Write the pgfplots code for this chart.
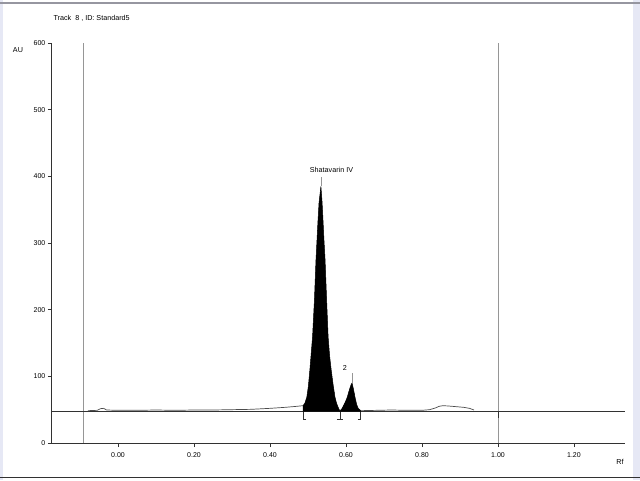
\documentclass[border=0pt]{standalone}
\usepackage{fontspec}
\setmainfont{Liberation Sans}
\usepackage{pgfplots}
\pgfplotsset{compat=1.18}
\definecolor{frame}{RGB}{150,150,160}
\definecolor{edge}{RGB}{230,232,245}
\definecolor{vline}{RGB}{150,150,150}
\definecolor{axcol}{RGB}{50,50,50}
\begin{document}
\begin{tikzpicture}[font=\fontsize{7.2}{8}\selectfont]
\useasboundingbox (0pt,0pt) rectangle (640pt,480pt);
\fill[white] (0pt,0pt) rectangle (640pt,480pt);
\fill[edge] (0pt,0pt) rectangle (3pt,480pt);
\fill[edge] (633pt,0pt) rectangle (640pt,480pt);
\draw[frame, line width=2pt] (0pt,477pt) -- (640pt,477pt);
\draw[axcol, line width=1pt] (0pt,2.5pt) -- (640pt,2.5pt);
\node[anchor=west] at (50pt,462pt) {Track\ \ 8 , ID: Standard5};
\node at (18pt,430pt) {AU};
\node at (620pt,18pt) {Rf};
% data origin (Rf 0, AU 0) sits at (118pt,37pt)
\begin{axis}[
  anchor=origin, at={(118pt,37pt)},
  scale only axis, width=573pt, height=400pt,
  xmin=-0.174, xmax=1.334, ymin=0, ymax=600,
  axis lines*=left,
  axis line style={axcol, line width=0.9pt},
  every tick/.style={axcol, line width=0.8pt},
  tick align=outside,
  xtick={0,0.2,0.4,0.6,0.8,1.0,1.2},
  ytick={0,100,200,300,400,500,600},
  x tick label style={/pgf/number format/fixed, /pgf/number format/fixed zerofill, /pgf/number format/precision=2, yshift=-2pt},
  yticklabel style={xshift=1pt},
  major tick length=4pt,
  /pgf/number format/assume math mode=true,
  tick label style={font=\fontsize{7}{8}\selectfont},
  clip=false,
]
% vertical start / front lines
\addplot[vline, line width=0.8pt] coordinates {(-0.092,0) (-0.092,600)};
\addplot[vline, line width=0.8pt] coordinates {(1.0,0) (1.0,600)};
% baseline
\addplot[axcol, line width=0.9pt] coordinates {(-0.174,47) (1.334,47)};
% trace before the peaks
\addplot[black!70, line width=0.7pt] coordinates {
  (-0.079,48.5) (-0.055,49) (-0.046,51.5) (-0.038,52) (-0.030,49.5)
  (0.00,49) (0.05,49) (0.10,49.5) (0.15,49) (0.20,49.5) (0.25,49.5)
  (0.30,50) (0.35,50.5) (0.40,52) (0.44,53.5) (0.470,55) (0.487,56)
};
% main peak (Shatavarin IV)
\addplot[fill=black, draw=black, line width=0.5pt] coordinates {
  (0.487,47) (0.487,56) (0.492,60) (0.497,69) (0.501,85) (0.505,110)
  (0.512,159) (0.517,215) (0.521,274) (0.526,330) (0.529,360)
  (0.534,385) (0.537,362) (0.539,340) (0.542,305) (0.545,274)
  (0.549,215) (0.553,159) (0.557,130) (0.561,110) (0.566,88)
  (0.571,69) (0.575,60) (0.579,54) (0.584,48) (0.584,47)
};
% peak 2
\addplot[fill=black, draw=black, line width=0.5pt] coordinates {
  (0.584,47) (0.584,48) (0.590,52) (0.597,60) (0.603,68) (0.608,78)
  (0.613,87) (0.616,90) (0.620,80) (0.624,68) (0.628,58) (0.632,52)
  (0.639,48.5) (0.639,47)
};
% trace after the peaks
\addplot[black!70, line width=0.7pt] coordinates {
  (0.639,48.5) (0.68,49) (0.72,49.5) (0.76,49) (0.80,49) (0.82,50)
  (0.835,52.5) (0.845,55) (0.855,56) (0.87,55.5) (0.89,54.5)
  (0.91,53.5) (0.925,52) (0.937,49.5)
};
% integration marks
\addplot[axcol, line width=0.7pt] coordinates {(0.495,36) (0.487,36) (0.487,47)};
\addplot[axcol, line width=0.7pt] coordinates {(0.576,36) (0.592,36)};
\addplot[axcol, line width=0.7pt] coordinates {(0.584,36) (0.584,47)};
\addplot[axcol, line width=0.7pt] coordinates {(0.631,36) (0.639,36) (0.639,47)};
\addplot[axcol, line width=0.7pt] coordinates {(1.0,47) (1.0,38)};
% peak markers
\addplot[vline, line width=0.6pt] coordinates {(0.534,385) (0.534,399)};
\addplot[vline, line width=0.6pt] coordinates {(0.616,90) (0.616,105)};
\node at (axis cs:0.562,409) {Shatavarin IV};
\node at (axis cs:0.597,112) {2};
\end{axis}
\end{tikzpicture}
\end{document}
